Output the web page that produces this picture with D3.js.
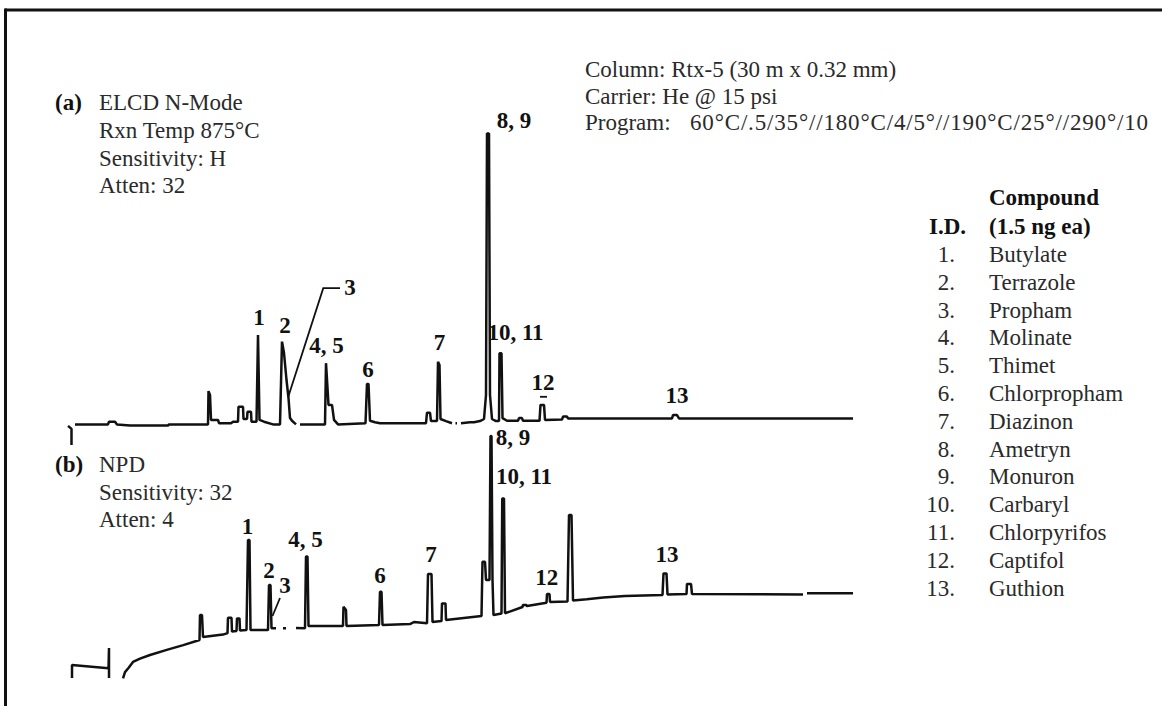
<!DOCTYPE html>
<html>
<head>
<meta charset="utf-8">
<script src="https://cdn.jsdelivr.net/npm/d3@7"></script>
<style>
  html, body { margin: 0; padding: 0; background: #fff; }
  svg { display: block; }
  text { font-family: "Liberation Serif", "Times New Roman", serif; }
</style>
</head>
<body>
<svg id="chart" width="1162" height="706"></svg>
<script>
// Retention time (min) vs detector response (% of panel full scale).
// null entries break the trace where the pen lifts.
const traceELCD = [
  [0,-0.3],[0.14,-1.3],[0.14,-6.7], null,
  [0.28,0.2],[1.6,0.2],[1.64,1.1],[1.88,1.1],[1.96,0.2],[2.48,-0.2],[4.0,-0.2],[4.04,0.2],
  [5.6,0.2],[5.62,11.3],[5.68,10],[5.72,1.7],[6.0,1.7],[6.04,0.6],[6.52,0.6],[6.6,1.1],[6.8,1.1],
  [6.82,6.1],[7.0,6.1],[7.02,2],[7.16,2],[7.18,4.4],[7.32,4.4],[7.34,1.1],[7.54,1.1],
  [7.6,30],[7.66,1.7],[7.84,1.1],[8.2,0.2],[8.48,0.2],
  [8.56,27.8],[8.64,24],[8.74,15],[8.82,9],[8.88,2.3],[8.96,1.4],[9.12,0.2], null,
  [9.28,0.2],[10.28,0.2],[10.32,20.6],[10.38,12.3],[10.42,6.7],[10.56,6.7],[10.64,1.7],[10.8,0.2],
  [11.9,0.6],[11.96,13.7],[12.02,13.7],[12.08,1.4],[12.28,0.9],[12.48,0.6],
  [14.32,0.6],[14.36,4.1],[14.48,4.1],[14.52,1.3],[14.76,1.3],[14.8,21.1],[14.86,20],[14.9,2],
  [15.12,1.3],[15.36,0.6], null,
  [15.5,0.6],[15.56,0.6], null,
  [15.72,0.6],[16.08,0.9],[16.24,0.9],[16.48,1.3],[16.64,2],[16.72,10],[16.76,97.2],[16.84,97.2],
  [16.88,10],[16.96,2],[17.12,1.3],[17.24,1.3],
  [17.26,23.9],[17.34,23.9],[17.38,2.3],[17.56,1.4],[18.0,1.4],[18.04,2.3],[18.16,2.3],[18.2,1.4],
  [18.86,1.4],[18.9,6.7],[19.04,6.7],[19.08,1.7],[19.76,1.8],[19.8,2.8],[19.96,2.8],[20.0,2.2],
  [24.16,2.2],[24.2,3.3],[24.36,3.3],[24.44,2.2],[31.4,2.2]
];

const traceNPD = [
  [0.16,7.3],[0.16,11.7],[1.62,10.6],[1.64,17.3],[1.64,7.3], null,
  [2.2,7.2],[2.28,9.3],[2.41,10.6],[2.6,12.7],[2.88,13.8],[3.28,15],[3.95,16.7],[4.61,18.3],[5.26,20],
  [5.28,28.3],[5.36,28.3],[5.4,21],[6.2,21.8],[6.38,22.3],[6.4,27.4],[6.54,27.4],[6.56,22.8],
  [6.74,23],[6.76,27.2],[6.86,27.2],[6.88,23.2],[7.14,23.3],
  [7.2,53.3],[7.26,53.3],[7.3,23.3],[8.0,23.3],[8.04,38.3],[8.1,38.3],[8.14,23.9],[8.32,23.9], null,
  [8.6,23.9],[8.72,23.9], null,
  [9.12,24],[9.48,23.9],[9.52,47.8],[9.58,47.8],[9.62,24.7],[11.0,24.7],[11.02,31.1],[11.12,30],[11.14,24.7],
  [12.44,25],[12.48,36.1],[12.54,36.1],[12.58,25],[13.68,25.3],[13.84,26],[14.36,25.6],
  [14.4,42],[14.54,42],[14.58,26],[14.94,26.3],[14.96,32.2],[15.1,32.2],[15.12,26.7],[16.54,28],
  [16.58,46.1],[16.68,46.1],[16.72,40],[16.86,40],[16.9,88],[16.94,88],[16.98,40],[17.02,28.3],[17.34,28.8],
  [17.37,67.2],[17.44,67.2],[17.48,28.9],[18.18,31],[18.2,31.7],[18.32,31.7],[18.36,31.3],[19.14,32.4],
  [19.16,35.3],[19.26,35.3],[19.28,32.7],[19.98,32.8],[20.04,61.7],[20.14,61.7],[20.2,33.2],
  [20.75,33.6],[21.41,34.2],[22.28,34.7],[23.78,35],[23.82,42.2],[23.94,42.2],[23.98,35.2],
  [24.74,35.3],[24.76,38.7],[24.92,38.7],[24.96,35.3],[29.4,35.2], null,
  [29.56,35.6],[31.4,35.6]
];

// Peak identification labels: text, retention time, response at label baseline
const peakLabelsELCD = [
  ["1", 7.64, 33.3], ["2", 8.68, 30.7], ["4, 5", 10.34, 24], ["6", 12.0, 16.1],
  ["7", 14.86, 25], ["8, 9", 17.84, 98.9], ["10, 11", 17.9, 28.3], ["12", 19.0, 11.7], ["13", 24.36, 7.3]
];
const peakLabelsNPD = [
  ["1", 7.18, 55.2], ["2", 8.04, 40.6], ["3", 8.68, 35.7], ["4, 5", 9.5, 51.1], ["6", 12.48, 39],
  ["7", 14.52, 46.1], ["8, 9", 17.8, 85], ["10, 11", 18.24, 72], ["12", 19.15, 38.3], ["13", 23.96, 46.1]
];
// Leader for the shoulder peak 3 in each trace
const leaderELCD = [[8.81, 9.4], [10.21, 45.6], [10.88, 45.6]];
const leaderLabelELCD = ["3", 11.28, 43.3];
const leaderNPD = [[8.18, 28], [8.48, 34]];
const peak12Tick = [[18.88, 9.4], [19.16, 9.4]];

const conditions = [
  "Column: Rtx-5 (30 m x 0.32 mm)",
  "Carrier: He @ 15 psi",
  "Program:"
];
const oven = "60°C/.5/35°//180°C/4/5°//190°C/25°//290°/10";
const elcdInfo = ["ELCD N-Mode", "Rxn Temp 875°C", "Sensitivity: H", "Atten: 32"];
const npdInfo = ["NPD", "Sensitivity: 32", "Atten: 4"];
const compoundIds = ["1.", "2.", "3.", "4.", "5.", "6.", "7.", "8.", "9.", "10.", "11.", "12.", "13."];
const compoundNames = ["Butylate", "Terrazole", "Propham", "Molinate", "Thimet", "Chlorpropham",
  "Diazinon", "Ametryn", "Monuron", "Carbaryl", "Chlorpyrifos", "Captifol", "Guthion"];

const svg = d3.select("#chart");
const ink = "#111";
const textInk = "#2a2a2a";
const fs = 23;

// Frame (top and left rules)
svg.append("line").attr("x1", 5).attr("x2", 1162).attr("y1", 10).attr("y2", 10)
  .attr("stroke", ink).attr("stroke-width", 3);
svg.append("line").attr("x1", 5.5).attr("x2", 5.5).attr("y1", 8.5).attr("y2", 706)
  .attr("stroke", ink).attr("stroke-width", 3);

const x = d3.scaleLinear().domain([0, 32]).range([68, 868]);
const yA = d3.scaleLinear().domain([0, 100]).range([425, 125]);
const yB = d3.scaleLinear().domain([0, 100]).range([700, 400]);

function drawTrace(data, y, width) {
  const line = d3.line().defined(d => d !== null).x(d => x(d[0])).y(d => y(d[1]));
  svg.append("path").attr("d", line(data)).attr("fill", "none")
    .attr("stroke", ink).attr("stroke-width", width)
    .attr("stroke-linejoin", "bevel").attr("stroke-linecap", "butt");
}
drawTrace(traceELCD, yA, 2.5);
drawTrace(traceNPD, yB, 2.5);

function drawLeader(data, y) {
  const line = d3.line().x(d => x(d[0])).y(d => y(d[1]));
  svg.append("path").attr("d", line(data)).attr("fill", "none")
    .attr("stroke", ink).attr("stroke-width", 1.8);
}
drawLeader(leaderELCD, yA);
drawLeader(leaderNPD, yB);
drawLeader(peak12Tick, yA);

function drawPeakLabels(labels, y) {
  svg.append("g").selectAll("text").data(labels).join("text")
    .attr("x", d => x(d[1])).attr("y", d => y(d[2]))
    .attr("text-anchor", "middle").attr("font-weight", "bold")
    .attr("font-size", fs).attr("fill", ink).text(d => d[0]);
}
drawPeakLabels(peakLabelsELCD, yA);
drawPeakLabels(peakLabelsNPD, yB);
svg.append("text").attr("x", x(leaderLabelELCD[1])).attr("y", yA(leaderLabelELCD[2]))
  .attr("text-anchor", "middle").attr("font-weight", "bold").attr("font-size", fs)
  .attr("fill", ink).text(leaderLabelELCD[0]);

// Run conditions
svg.append("g").selectAll("text").data(conditions).join("text")
  .attr("x", 585).attr("y", (d, i) => 77 + i * 26.5)
  .attr("font-size", fs).attr("fill", textInk).text(d => d);
svg.append("text").attr("x", 690).attr("y", 77 + 2 * 26.5)
  .attr("font-size", fs).attr("fill", textInk)
  .attr("textLength", 458).attr("lengthAdjust", "spacing").text(oven);

// Detector blocks
svg.append("text").attr("x", 55).attr("y", 110).attr("font-weight", "bold")
  .attr("font-size", fs).attr("fill", ink).text("(a)");
svg.append("g").selectAll("text").data(elcdInfo).join("text")
  .attr("x", 99).attr("y", (d, i) => 110 + i * 27.8)
  .attr("font-size", fs).attr("fill", textInk).text(d => d);
svg.append("text").attr("x", 55).attr("y", 472).attr("font-weight", "bold")
  .attr("font-size", fs).attr("fill", ink).text("(b)");
svg.append("g").selectAll("text").data(npdInfo).join("text")
  .attr("x", 99).attr("y", (d, i) => 472 + i * 27.5)
  .attr("font-size", fs).attr("fill", textInk).text(d => d);

// Compound key
svg.append("text").attr("x", 989).attr("y", 205).attr("font-weight", "bold")
  .attr("font-size", fs).attr("fill", ink).text("Compound");
svg.append("text").attr("x", 929).attr("y", 234).attr("font-weight", "bold")
  .attr("font-size", fs).attr("fill", ink).text("I.D.");
svg.append("text").attr("x", 989).attr("y", 234).attr("font-weight", "bold")
  .attr("font-size", fs).attr("fill", ink).text("(1.5 ng ea)");
svg.append("g").selectAll("text").data(compoundIds).join("text")
  .attr("x", 955).attr("y", (d, i) => 262 + i * 27.8).attr("text-anchor", "end")
  .attr("font-size", fs).attr("fill", textInk).text(d => d);
svg.append("g").selectAll("text").data(compoundNames).join("text")
  .attr("x", 989).attr("y", (d, i) => 262 + i * 27.8)
  .attr("font-size", fs).attr("fill", textInk).text(d => d);
</script>
</body>
</html>
